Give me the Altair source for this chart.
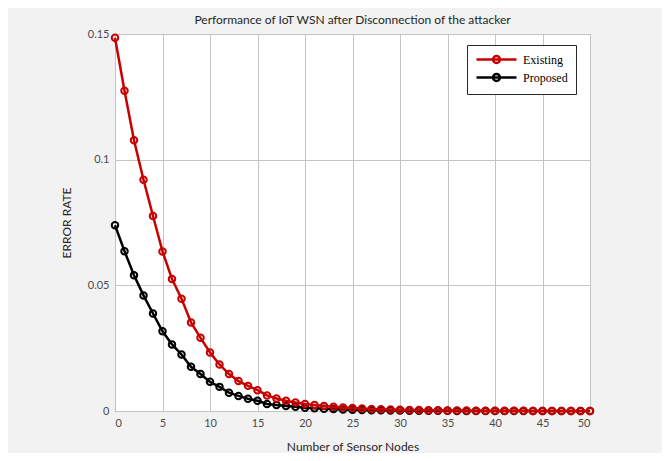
import altair as alt
import pandas as pd

# ---- data ----
nodes = list(range(51))
existing = [0.1485, 0.1274, 0.1077, 0.0920, 0.0776, 0.0635, 0.0525, 0.0447, 0.0352, 0.0291,
            0.0233, 0.0185, 0.0147, 0.0119, 0.0100, 0.0083, 0.0062, 0.0050, 0.0041, 0.0034,
            0.0028, 0.0024, 0.0020, 0.0017, 0.0014, 0.0012, 0.0010, 0.0008, 0.0007, 0.0006,
            0.0005, 0.0004, 0.0004, 0.0003, 0.0003, 0.0002, 0.0002, 0.0002, 0.0001, 0.0001,
            0.0001, 0.0001, 0.0001, 0.0001, 0.0000, 0.0000, 0.0000, 0.0000, 0.0000, 0.0000,
            0.0000]
proposed = [0.0739, 0.0636, 0.0540, 0.0460, 0.0388, 0.0317, 0.0265, 0.0225, 0.0176, 0.0147,
            0.0116, 0.0096, 0.0073, 0.0060, 0.0049, 0.0041, 0.0028, 0.0024, 0.0020, 0.0017,
            0.0013, 0.0011, 0.0009, 0.0008, 0.0006, 0.0005, 0.0004, 0.0003, 0.0003, 0.0002,
            0.0002, 0.0001, 0.0001, 0.0001, 0.0001, 0.0001, 0.0000, 0.0000, 0.0000, 0.0000,
            0.0000, 0.0000, 0.0000, 0.0000, 0.0000, 0.0000, 0.0000, 0.0000, 0.0000, 0.0000,
            0.0000]
series_names = ["Existing", "Proposed"]
series_colors = ["#c80000", "#000000"]
x_ticks = [0, 5, 10, 15, 20, 25, 30, 35, 40, 45, 50]
y_ticks = [0, 0.05, 0.1, 0.15]

rows = []
for n, e, p in zip(nodes, existing, proposed):
    rows.append({"nodes": n, "rate": e, "series": "Existing"})
    rows.append({"nodes": n, "rate": p, "series": "Proposed"})
df = pd.DataFrame(rows)

# legend symbol: line with an open circle in its middle
LEG_PATH = "M-1,0H7M3.7,0A0.7,0.7 0 1,1 2.3,0A0.7,0.7 0 1,1 3.7,0"

TEXT = "#262626"
SANS = "Lato"

color = alt.Color(
    "series:N",
    scale=alt.Scale(domain=series_names, range=series_colors),
    legend=alt.Legend(
        title=None, orient="none", legendX=352, legendY=11,
        symbolType=LEG_PATH, symbolSize=100, symbolStrokeWidth=2.5,
        symbolFillColor="transparent", symbolOpacity=1,
        labelOffset=35, labelFont="Liberation Serif", labelFontSize=12,
        labelColor="#000000", strokeColor=TEXT, fillColor="white",
        padding=8, rowPadding=1, cornerRadius=0,
    ),
)

x = alt.X(
    "nodes:Q",
    scale=alt.Scale(domain=[0, 50], nice=False, zero=False),
    axis=alt.Axis(values=x_ticks, title="Number of Sensor Nodes", format="d"),
)
y = alt.Y(
    "rate:Q",
    scale=alt.Scale(domain=[0, 0.15], nice=False),
    axis=alt.Axis(
        values=y_ticks, title="ERROR RATE",
        labelExpr="datum.value == 0 ? '0' : format(datum.value, '.2~f')",
    ),
)

def series_layer(name):
    return (
        alt.Chart(df)
        .transform_filter(alt.datum.series == name)
        .mark_line(
            strokeWidth=2.5,
            point=alt.OverlayMarkDef(shape="circle", filled=False, size=42, strokeWidth=2),
        )
        .encode(x=x, y=y, color=color)
    )

chart = (
    alt.layer(series_layer("Proposed"), series_layer("Existing"))
    .properties(
        width=475,
        height=377,
        title=alt.Title(
            "Performance of IoT WSN after Disconnection of the attacker",
            font=SANS, fontSize=12, fontWeight="normal", color=TEXT,
            frame="group", offset=1,
        ),
        autosize=alt.AutoSizeParams(type="none"),
        padding={"left": 107, "top": 26, "right": 72, "bottom": 42},
        background="#f2f2f2",
    )
    .configure_view(fill="white", stroke=TEXT, strokeWidth=1)
    .configure_axis(
        grid=True, gridColor="#c4c4c4", gridWidth=1, domain=False, tickSize=0,
        labelFont=SANS, labelFontSize=11, labelColor="#4a4a4a", labelPadding=6,
        titleFont=SANS, titleFontSize=12, titleFontWeight="normal", titleColor=TEXT,
    )
    .configure_axisX(titlePadding=13)
    .configure_axisY(titlePadding=14)
)

chart.save("out.html", embed_options={"renderer": "svg", "actions": False})
